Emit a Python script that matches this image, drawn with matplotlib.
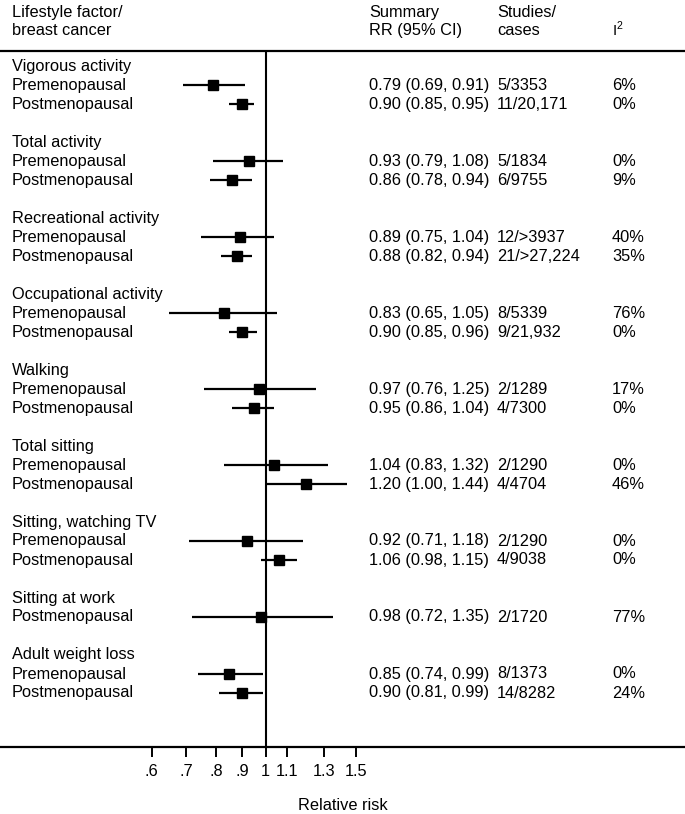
import matplotlib
matplotlib.use('Agg')
import matplotlib.pyplot as plt
import matplotlib.transforms as mtransforms
from matplotlib.ticker import NullLocator
import numpy as np

plt.rcParams['font.family'] = ['Liberation Sans', 'DejaVu Sans']
plt.rcParams['mathtext.fontset'] = 'custom'
plt.rcParams['mathtext.rm'] = 'Liberation Sans'

# lifestyle factors and the subgroups shown under each
groups = ["Vigorous activity", "Total activity", "Recreational activity",
          "Occupational activity", "Walking", "Total sitting",
          "Sitting, watching TV", "Sitting at work", "Adult weight loss"]
subgroups = [["Premenopausal", "Postmenopausal"]] * 7 + [["Postmenopausal"]] + [["Premenopausal", "Postmenopausal"]]

# summary RR with 95% CI, flat in plotting order
rr = [0.79, 0.90, 0.93, 0.86, 0.89, 0.88, 0.83, 0.90, 0.97, 0.95,
      1.04, 1.20, 0.92, 1.06, 0.98, 0.85, 0.90]
ci_lo = [0.69, 0.85, 0.79, 0.78, 0.75, 0.82, 0.65, 0.85, 0.76, 0.86,
         0.83, 1.00, 0.71, 0.98, 0.72, 0.74, 0.81]
ci_hi = [0.91, 0.95, 1.08, 0.94, 1.04, 0.94, 1.05, 0.96, 1.25, 1.04,
         1.32, 1.44, 1.18, 1.15, 1.35, 0.99, 0.99]
studies = ["5/3353", "11/20,171", "5/1834", "6/9755", "12/>3937", "21/>27,224",
           "8/5339", "9/21,932", "2/1289", "4/7300", "2/1290", "4/4704",
           "2/1290", "4/9038", "2/1720", "8/1373", "14/8282"]
i2 = ["6%", "0%", "0%", "9%", "40%", "35%", "76%", "0%", "17%", "0%",
      "0%", "46%", "0%", "0%", "77%", "0%", "24%"]

xticks = [0.6, 0.7, 0.8, 0.9, 1.0, 1.1, 1.3, 1.5]
xticklabels = [".6", ".7", ".8", ".9", "1", "1.1", "1.3", "1.5"]

W, H = 685, 814
fig = plt.figure(figsize=(W / 100, H / 100), dpi=100)
top_px, bot_px = 51, 746.7
ax = fig.add_axes([0, 1 - bot_px / H, 1, (bot_px - top_px) / H])

# log scale with x=1 at about 265px, ~223.5px per ln unit
x1_px, px_per_ln = 265.7, 223.5
ax.set_xscale('log')
ax.set_xlim(np.exp(-x1_px / px_per_ln), np.exp((W - x1_px) / px_per_ln))
row_px, first_px = 19.0, 66.0
ax.set_ylim((bot_px - first_px) / row_px, (top_px - first_px) / row_px)

tr = mtransforms.blended_transform_factory(ax.transAxes, ax.transData)
fs = 11.8
col_lab, col_rr, col_st, col_i2 = 12 / W, 369 / W, 497 / W, 612 / W

# headers
for y, a, b, c in [(-2.84, "Lifestyle factor/", "Summary", "Studies/"),
                   (-1.89, "breast cancer", "RR (95% CI)", "cases")]:
    ax.text(col_lab, y, a, transform=tr, fontsize=fs, va='center', clip_on=False)
    ax.text(col_rr, y, b, transform=tr, fontsize=fs, va='center', clip_on=False)
    ax.text(col_st, y, c, transform=tr, fontsize=fs, va='center', clip_on=False)
ax.text(col_i2, -1.95, r"$\mathrm{I}^{2}$", transform=tr, fontsize=fs - 1,
        va='center', clip_on=False)

k = 0
idx = 0
for g, subs in zip(groups, subgroups):
    ax.text(col_lab, k, g, transform=tr, fontsize=fs, va='center')
    for s in subs:
        k += 1
        ax.text(col_lab, k, s, transform=tr, fontsize=fs, va='center')
        ax.plot([ci_lo[idx], ci_hi[idx]], [k, k], color='black', lw=1.6,
                solid_capstyle='butt')
        ax.plot(rr[idx], k, 's', color='black', ms=7.2)
        ax.text(col_rr, k, f"{rr[idx]:.2f} ({ci_lo[idx]:.2f}, {ci_hi[idx]:.2f})",
                transform=tr, fontsize=fs, va='center')
        ax.text(col_st, k, studies[idx], transform=tr, fontsize=fs, va='center')
        ax.text(col_i2, k, i2[idx], transform=tr, fontsize=fs, va='center')
        idx += 1
    k += 2

ax.axvline(1.0, color='black', lw=1.5)

for side in ['left', 'right']:
    ax.spines[side].set_visible(False)
for side in ['top', 'bottom']:
    ax.spines[side].set_linewidth(1.6)
ax.set_yticks([])
ax.set_xticks(xticks)
ax.set_xticklabels(xticklabels, fontsize=fs)
ax.xaxis.set_minor_locator(NullLocator())
ax.tick_params(axis='x', length=7.5, width=1.4, pad=5)

fig.text(0.5, 1 - 805 / H, "Relative risk", ha='center', va='center', fontsize=fs)

fig.savefig("out.png", dpi=100)
